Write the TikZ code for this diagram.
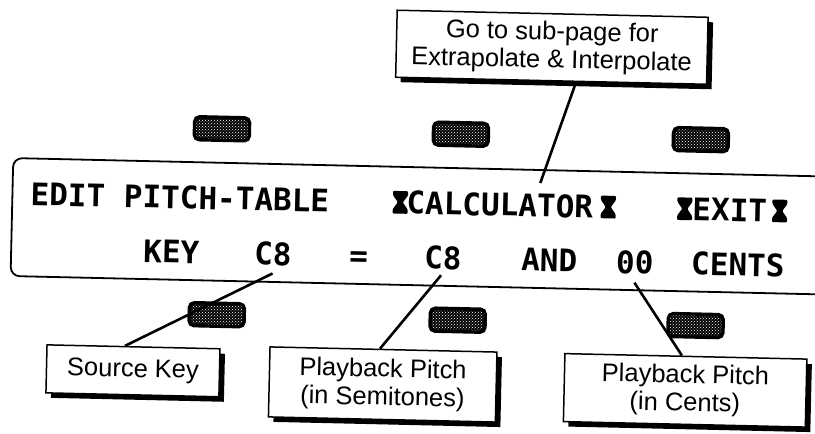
\documentclass[tikz,border=0pt]{standalone}
\usepackage{fontspec}
\setmainfont{Liberation Sans}
\newfontfamily\lcdfont{DejaVu Sans Mono}
\usetikzlibrary{calc,patterns,shadows}

\begin{document}
\begin{tikzpicture}[x=1pt,y=-1pt]
\tikzset{lcd/.style={font=\lcdfont\bfseries\fontsize{31}{31}\selectfont,inner sep=0pt,anchor=west,text height=22.6pt,text depth=0pt},btn/.style={draw=black,line width=3.4pt,rounded corners=5pt,minimum width=55pt,minimum height=23pt,preaction={fill=black},pattern=crosshatch dots,pattern color=white},note/.style={draw,line width=1.5pt,fill=white,align=center,font=\fontsize{25.5}{28}\selectfont,drop shadow={shadow xshift=5pt,shadow yshift=-5pt,opacity=1,fill=black}},lead/.style={line width=2.6pt},hglass/.pic={\fill[rounded corners=1pt] (-7.5,-11.3)--(7.5,-11.3)--(7.5,-7)--(2.5,0)--(7.5,7)--(7.5,11.3)--(-7.5,11.3)--(-7.5,7)--(-2.5,0)--(-7.5,-7)--cycle;}}
\useasboundingbox (0,0) rectangle (815,434);
\begin{scope}[rotate around={-1.3:(407,217)},transform shape]
\draw[line width=1.8pt,rounded corners=9pt] (840,167)--(12,167)--(12,285)--(840,285);
\node[btn] (bt1) at (220,133) {}; \node[btn] (bt2) at (459,133) {}; \node[btn] (bt3) at (699,133) {};
\node[btn] (bb1) at (219,319) {}; \node[btn] (bb2) at (460,319) {}; \node[btn] (bb3) at (698,319) {};
\node[lcd] (edit) at (30,202.5) {EDIT PITCH-TABLE}; \node[lcd] (calc) at (406,202.5) {CALCULATOR}; \node[lcd] (exit) at (692,202.5) {EXIT};
\pic at (400,202.5) {hglass}; \pic at (608,202.5) {hglass}; \pic at (684.5,202.5) {hglass}; \pic at (779.5,202.5) {hglass};
\node[lcd] (key) at (144,257) {KEY}; \node[lcd] (srcv) at (255,257) {C8}; \node[lcd] (eq) at (350,257) {=};
\node[lcd] (dstv) at (425,257) {C8}; \node[lcd] (and) at (522,257) {AND}; \node[lcd] (cval) at (617,257) {00}; \node[lcd] (cents) at (692,257) {CENTS};
\node[note,minimum width=311pt,minimum height=67pt] (gonote) at (548,44) {Go to sub-page for\\Extrapolate \& Interpolate};
\node[note,minimum width=173pt,minimum height=48pt] (skey) at (136.5,377) {Source Key};
\node[note,minimum width=227pt,minimum height=70pt] (semi) at (386.5,385) {Playback Pitch\\(in Semitones)};
\node[note,minimum width=242pt,minimum height=68pt] (cnote) at (689,384) {Playback Pitch\\(in Cents)};
\draw[lead] ($(gonote.south)+(25,0)$)--($(calc.north)+(40,-11)$);
\draw[lead] ($(srcv.south)+(0,8)$)--($(skey.north)+(-8.5,0)$);
\draw[lead] ($(dstv.south)+(-1.5,6)$)--($(semi.north)+(-3.5,0)$);
\draw[lead] ($(cval.south)+(0,9)$)--($(cnote.north)+(-4,0)$);
\end{scope}
\end{tikzpicture}
\end{document}
